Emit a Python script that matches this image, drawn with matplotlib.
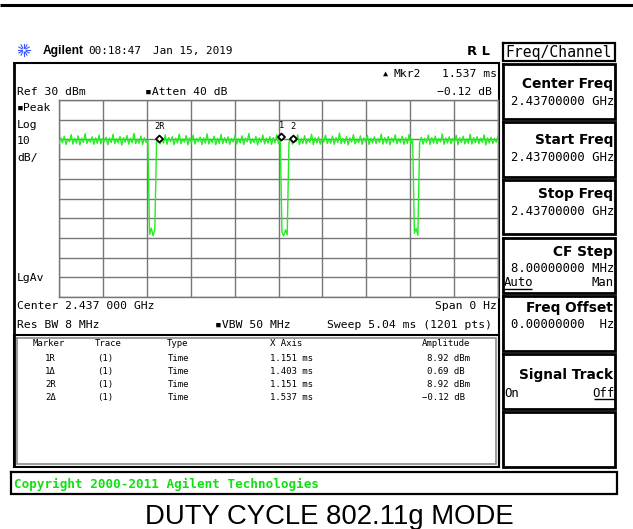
import numpy as np
import matplotlib
matplotlib.use('Agg')
import matplotlib.pyplot as plt
from matplotlib.path import Path

# ---------------- data ----------------
SWEEP_MS = 5.04
REF_DBM = 30
DB_PER_DIV = 10
N_DIV = 10

# 253 trace samples across the 5.04 ms sweep
trace_dbm = [
    7.8, 10.9, 8.3, 11.6, 7.4, 10.2, 8.8, 12.4, 7.6, 10.5,
    8.1, 11.8, 7.2, 10.6, 8.5, 12.9, 7.9, 10.1, 8.7, 11.3,
    7.5, 10.8, 8.0, 12.2, 7.7, 10.4, 8.9, 11.1, 7.3, 10.7,
    8.4, 12.6, 7.8, 10.3, 8.2, 11.5, 7.1, 10.9, 8.6, 12.0,
    7.6, 10.6, 8.3, 13.1, 7.9, 10.2, 8.0, 11.7, 7.4, 10.8,
    8.5, 9.6, -38.2, -35.1, -38.9, -35.8, 8.4, 11.2, 7.7, 10.4,
    8.1, 12.3, 7.5, 10.9, 8.8, 11.4, 7.3, 10.6, 8.2, 12.7,
    7.8, 10.3, 8.6, 11.9, 7.2, 10.7, 8.4, 12.1, 7.6, 10.5,
    8.9, 11.2, 7.4, 10.8, 8.1, 12.8, 7.7, 10.2, 8.5, 11.6,
    7.3, 10.6, 8.0, 12.5, 7.8, 10.9, 8.3, 11.3, 7.5, 10.4,
    8.7, 12.0, 7.6, 10.5, 8.2, 11.8, 7.4, 10.7, 8.8, 13.0,
    7.9, 10.3, 8.4, 11.5, 7.2, 10.8, 8.6, 12.2, 7.7, 10.6,
    8.1, 11.4, 7.5, 10.9, 8.3, 12.4, 7.8, 10.2, -37.3, -39.0,
    -35.9, -38.4, 8.2, 11.1, 7.6, 10.7, 8.9, 12.3, 7.4, 10.5,
    8.0, 11.9, 7.7, 10.4, 8.5, 12.6, 7.3, 10.8, 8.2, 11.2,
    7.6, 10.6, 8.7, 12.1, 7.9, 10.3, 8.1, 11.7, 7.5, 10.9,
    8.4, 13.2, 7.8, 10.5, 8.0, 11.4, 7.2, 10.7, 8.6, 12.4,
    7.7, 10.2, 8.3, 11.8, 7.5, 10.8, 8.8, 12.0, 7.4, 10.6,
    8.2, 11.3, 7.9, 10.4, 8.5, 12.7, 7.6, 10.9, 8.1, 11.5,
    7.3, 10.7, 8.6, 12.3, 7.8, 10.3, 8.4, 11.6, 7.5, 10.8,
    8.0, 12.5, 7.7, 10.1, -37.6, -35.2, -38.7, 8.3, 11.0, 7.6,
    10.6, 8.5, 12.2, 7.4, 10.9, 8.1, 11.7, 7.8, 10.4, 8.7,
    12.8, 7.5, 10.7, 8.2, 11.3, 7.9, 10.5, 8.6, 12.1, 7.3,
    10.8, 8.4, 11.6, 7.7, 10.2, 8.0, 12.6, 7.6, 10.9, 8.3,
    11.4, 7.8, 10.6, 8.5, 12.3, 7.2, 10.7, 8.1, 11.1, 7.9,
    10.5, 8.6, 11.8,
]

marker_names = ['1R', '1\u0394', '2R', '2\u0394']
marker_traces = ['(1)', '(1)', '(1)', '(1)']
marker_types = ['Time', 'Time', 'Time', 'Time']
marker_x_ms = [1.151, 1.403, 1.151, 1.537]
marker_amp = [8.92, 0.69, 8.92, -0.12]
marker_units = ['dBm', 'dB ', 'dBm', 'dB ']

ref_ms = marker_x_ms[0]
ref_amp = marker_amp[0]
screen_marker_labels = ['2R', '1', '2']
screen_marker_ms = [ref_ms, ref_ms + marker_x_ms[1], ref_ms + marker_x_ms[3]]
screen_marker_dbm = [ref_amp, ref_amp + marker_amp[1], ref_amp + marker_amp[3]]

# ---------------- figure ----------------
W, H, DPI = 633, 529, 100
fig = plt.figure(figsize=(W / DPI, H / DPI), dpi=DPI)
fig.patch.set_facecolor('white')
bg = fig.add_axes([0, 0, 1, 1])
bg.set_xlim(0, W)
bg.set_ylim(H, 0)
bg.axis('off')

MONO = ['DejaVu Sans Mono', 'DejaVu Sans']
SANS = ['DejaVu Sans']


def put(x, y, s, em, ha='left', family=None, weight='normal', color='black', cap=0.73):
    bg.text(x, y + cap * em / 2, s, fontsize=em * 0.72, ha=ha, va='baseline',
            family=family or MONO, fontweight=weight, color=color)


def hline(y, x0, x1, lw=1.0, color='black'):
    bg.plot([x0, x1], [y, y], color=color, lw=lw, solid_capstyle='butt')


def vline(x, y0, y1, lw=1.0, color='black'):
    bg.plot([x, x], [y0, y1], color=color, lw=lw, solid_capstyle='butt')


def rect(x0, y0, x1, y1, lw=1.5, color='black'):
    bg.plot([x0, x1, x1, x0, x0], [y0, y0, y1, y1, y0], color=color, lw=lw,
            solid_joinstyle='miter')


# top rule
hline(5, 0, W, lw=2.2)

# header
for a in np.arange(0, 360, 30):
    r = np.deg2rad(a)
    bg.plot([24 + 2.2 * np.cos(r), 24 + 6 * np.cos(r)],
            [50 + 2.2 * np.sin(r), 50 + 6 * np.sin(r)], color='#3a55ff', lw=0.8)
put(43, 50, 'Agilent', 12.0, family=['Liberation Sans'], weight='bold', cap=0.72)
put(88, 50, '00:18:47', 11.0)
put(153, 50, 'Jan 15, 2019', 11.0)
put(467, 50, 'R L', 13.0, family=SANS, weight='bold')

# screen frame
vline(13.5, 62, 467, lw=2.0)
hline(62.5, 13, 499.5, lw=1.5)
vline(499, 62, 467, lw=1.5)

# top annotations
put(383, 73, '\u25b2', 8.5)
put(393, 73, 'Mkr2', 11.4)
put(497, 73, '1.537 ms', 11.4, ha='right')
put(17, 91, 'Ref 30 dBm', 11.4)
put(145, 91, '\u25aaAtten 40 dB', 11.4)
put(492, 91, '\u22120.12 dB', 11.4, ha='right')
put(17, 107, '\u25aaPeak', 11.4)
put(17, 124, 'Log', 11.4)
put(17, 140, '10', 11.4)
put(17, 157, 'dB/', 11.4)
put(17, 277, 'LgAv', 11.4)

put(17, 305, 'Center 2.437 000 GHz', 11.4)
put(497, 305, 'Span 0 Hz', 11.4, ha='right')
put(17, 324, 'Res BW 8 MHz', 11.4)
put(215, 324, '\u25aaVBW 50 MHz', 11.4)
put(492, 324, 'Sweep 5.04 ms (1201 pts)', 11.4, ha='right')

# marker table box (double border)
rect(13.5, 335, 499, 467, lw=1.5)
rect(17, 338, 495.5, 463.5, lw=1.2, color='#8a8a8a')

TEM = 9.0
put(33, 343, 'Marker', TEM)
put(95, 343, 'Trace', TEM)
put(167, 343, 'Type', TEM)
put(270, 343, 'X Axis', TEM)
put(470, 343, 'Amplitude', TEM, ha='right')
row_y = [357.7, 370.3, 383.3, 396.5]
for i in range(len(marker_names)):
    y = row_y[i]
    put(45, y, marker_names[i], TEM)
    put(97, y, marker_traces[i], TEM)
    put(168, y, marker_types[i], TEM)
    put(270, y, f'{marker_x_ms[i]:.3f} ms', TEM)
    amp = f'{marker_amp[i]:.2f}'.replace('-', '\u2212')
    put(470, y, f'{amp} {marker_units[i]}', TEM, ha='right')

# softkeys
hx0, hx1 = 503, 615
rect(hx0, 43, hx1, 61, lw=1.6)
put(505, 52, 'Freq/Channel', 14.8)
boxes = [(64, 119), (122, 177), (179.5, 234), (238, 293), (296, 350.5), (353.5, 409), (412, 467)]
for (y0, y1) in boxes:
    rect(hx0, y0, hx1, y1, lw=2.0)
KT = 13.7
KV = 12.2
put(613, 83, 'Center Freq', KT, ha='right', family=SANS, weight='bold')
put(614, 101, '2.43700000 GHz', KV, ha='right')
put(613, 139, 'Start Freq', KT, ha='right', family=SANS, weight='bold')
put(614, 157, '2.43700000 GHz', KV, ha='right')
put(613, 193, 'Stop Freq', KT, ha='right', family=SANS, weight='bold')
put(614, 211, '2.43700000 GHz', KV, ha='right')
put(613, 251, 'CF Step', KT, ha='right', family=SANS, weight='bold')
put(614, 268, '8.00000000 MHz', KV, ha='right')
put(504, 282, 'Auto', KV)
hline(288.5, 504, 532, lw=1.0)
put(614, 282, 'Man', KV, ha='right')
put(613, 307, 'Freq Offset', KT, ha='right', family=SANS, weight='bold')
put(614, 324, '0.00000000  Hz', KV, ha='right')
put(613, 374, 'Signal Track', KT, ha='right', family=SANS, weight='bold')
put(504, 393, 'On', KV)
put(614, 393, 'Off', KV, ha='right')
hline(399, 594, 614, lw=1.0)

# copyright bar
rect(11, 472, 617, 494, lw=1.6)
put(14, 483, 'Copyright 2000-2011 Agilent Technologies', 12.6, weight='bold', color='#10e010')

# caption
put(329, 514, 'DUTY CYCLE 802.11g MODE', 27.5, ha='center', family=['Liberation Sans'], cap=0.716)

# ---------------- trace graticule ----------------
gx0, gx1, gy0, gy1 = 59, 498, 100, 297
ax = fig.add_axes([gx0 / W, (H - gy1) / H, (gx1 - gx0) / W, (gy1 - gy0) / H])
ax.set_facecolor('none')
ax.set_xlim(0, SWEEP_MS)
ax.set_ylim(REF_DBM - N_DIV * DB_PER_DIV, REF_DBM)
ax.set_xticks(np.linspace(0, SWEEP_MS, N_DIV + 1))
ax.set_yticks(np.arange(REF_DBM - N_DIV * DB_PER_DIV, REF_DBM + 1, DB_PER_DIV))
ax.tick_params(length=0, labelbottom=False, labelleft=False)
ax.grid(True, color='#767676', lw=1.0)
for s in ax.spines.values():
    s.set_color('#767676')
    s.set_linewidth(1.0)

t = np.linspace(0, SWEEP_MS, len(trace_dbm))
ax.plot(t, trace_dbm, color='#22ee22', lw=1.0, zorder=3)

diamond = Path([(0, 0), (-1, 1), (0, 2), (1, 1), (0, 0)],
               [Path.MOVETO, Path.LINETO, Path.LINETO, Path.LINETO, Path.CLOSEPOLY])
ax.plot(screen_marker_ms, screen_marker_dbm, linestyle='none', marker=diamond,
        markersize=10, markerfacecolor='white', markeredgecolor='black',
        markeredgewidth=1.3, zorder=5, clip_on=False)
for lab, xm, ym in zip(screen_marker_labels, screen_marker_ms, screen_marker_dbm):
    ax.annotate(lab, (xm, ym), xytext=(0, 9), textcoords='offset points',
                ha='center', va='baseline', fontsize=6.3, family=MONO, zorder=6)

fig.savefig('out.png', dpi=DPI, facecolor='white')
